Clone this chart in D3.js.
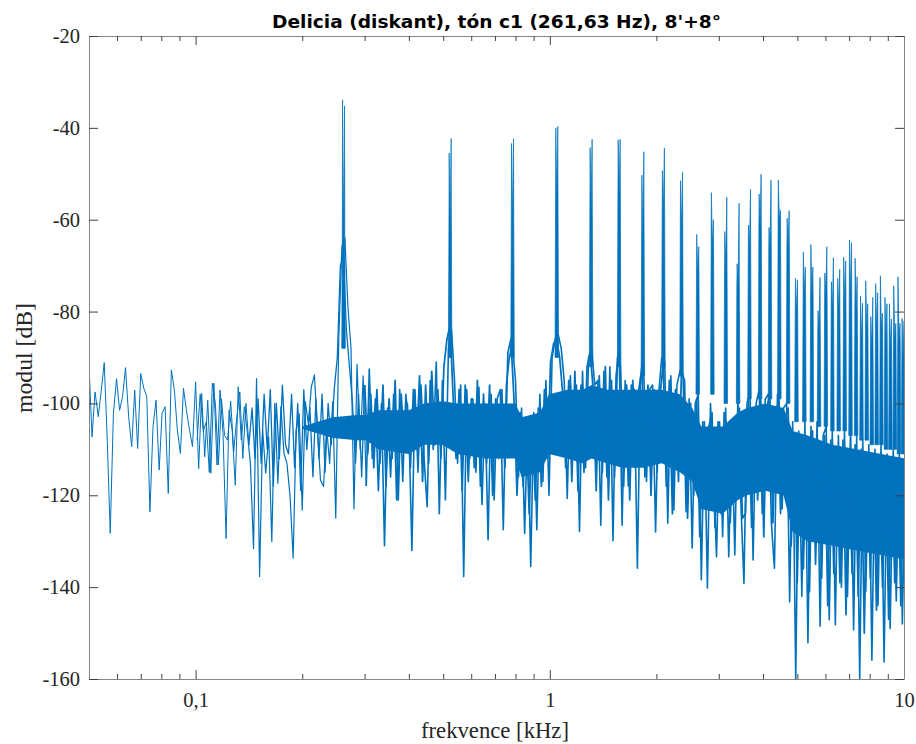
<!DOCTYPE html>
<html>
<head>
<meta charset="utf-8">
<script src="https://cdn.jsdelivr.net/npm/d3@7"></script>
<style>
html,body{margin:0;padding:0;background:#fff;}
svg{display:block;}
</style>
</head>
<body>
<svg id="chart" width="916" height="744"></svg>
<script>
// ---------------- DATA ----------------
const titleText = "Delicia (diskant), tón c1 (261,63 Hz), 8'+8°";
const xLabelText = "frekvence [kHz]";
const yLabelText = "modul [dB]";

const xMajorTicks = [0.1, 1, 10];
const xMajorLabels = ["0,1", "1", "10"];
const xMinorTicks = [0.06,0.07,0.08,0.09,0.2,0.3,0.4,0.5,0.6,0.7,0.8,0.9,2,3,4,5,6,7,8,9];
const yTicks = [-160,-140,-120,-100,-80,-60,-40,-20];

// spectrum trace (set 1): frequency [kHz]
const noiseFreq = [
0.05,0.051,0.052,0.0531,0.0541,0.0552,0.0563,0.0574,0.0586,0.0598,0.061,0.0622,0.0634,0.0647,0.066,0.0673,0.0686,0.07,0.0714,0.0728,0.0743,0.0758,0.0773,0.0789,0.0804,0.082,0.0837,0.0854,0.0871,0.0888,0.0906,0.0924,0.0942,0.0961,0.098,
0.1,0.102,0.104,0.1061,0.1082,0.1104,0.1126,0.1149,0.1172,0.1195,0.1219,0.1243,0.1268,0.1294,0.1319,0.1346,0.1373,0.14,0.1428,0.1457,0.1486,0.1516,0.1546,0.1577,0.1608,0.1641,0.1673,0.1707,0.1741,0.1776,0.1811,0.1848,0.1885,0.1922,0.1961,
0.2,0.204,0.2081,0.2122,0.2165,0.2208,0.2252,0.2297,0.2343,0.239,0.2438,0.2487,0.2536,0.2587,0.2639,0.2692,0.2746,0.28,0.2856,0.2914,0.2972,0.3032,0.3092,0.3154,0.3217,0.3281,0.3347,0.3414,0.3482,0.3552,0.3623,0.3695,0.3769,0.3844,0.3922,
0.4,0.408,0.4162,0.4245,0.433,0.4416,0.4505,0.4594,0.4686,0.478,0.4876,0.4974,0.5073,0.5174,0.5278,0.5383,0.5491,0.5601,0.5713,0.5827,0.5944,0.6063,0.6184,0.6308,0.6434,0.6562,0.6694,0.6828,0.6964,0.7103,0.7246,0.739,0.7538,0.7689,0.7843,
0.8,0.816,0.8323,0.849,0.8659,0.8833,0.9009,0.919,0.9373,0.9561,0.9752,0.9947,1.015,1.035,1.056,1.077,1.098,1.12,1.143,1.165,1.189,1.213,1.237,1.262,1.287,1.312,1.339,1.366,1.393,1.421,1.449,1.478,1.508,1.538,1.569,
1.6,1.632,1.665,1.698,1.732,1.767,1.802,1.838,1.875,1.912,1.95,1.989,2.029,2.07,2.111,2.153,2.197,2.24,2.285,2.331,2.378,2.425,2.474,2.523,2.574,2.625,2.678,2.731,2.786,2.842,2.898,2.956,3.015,3.076,3.137,
3.2,3.264,3.329,3.396,3.464,3.533,3.604,3.676,3.749,3.824,3.901,3.979,4.058,4.14,4.222,4.307,4.393,4.481,4.57,4.662,4.755,4.85,4.947,5.046,5.147,5.25,5.355,5.462,5.571,5.683,5.796,5.912,6.031,6.151,6.274,
6.4,6.528,6.658,6.792,6.927,7.066,7.207,7.351,7.498,7.648,7.801,7.957,8.116,8.279,8.444,8.613,8.785,8.961,9.14,9.323,9.51,9.7,9.894,10.09
];
// spectrum trace (set 1): level [dB]
const noiseDb = [
-91.7,-107.3,-97.5,-102.9,-97.5,-91.1,-108.0,-128.3,-102.2,-94.6,
-101.5,-98.5,-92.2,-102.9,-109.4,-97.1,-109.8,-93.5,-96.7,-98.5,
-123.6,-105.1,-99.3,-114.5,-102.2,-100.7,-119.6,-92.7,-97.1,-105.8,
-110.9,-96.7,-101.5,-105.8,-109.4,-95.3,-114.2,-97.8,-111.6,-99.3,
-115.2,-95.6,-113.4,-97.1,-106.5,-129.4,-101.5,-105.8,-117.8,-96.4,
-108.0,-100.7,-106.5,-113.1,-131.6,-94.6,-137.7,-105.8,-115.2,-107.3,
-130.1,-100.0,-117.4,-100.7,-110.9,-113.1,-120.3,-133.7,-105.8,-102.2,
-123.2,-99.6,-104.4,-96.4,-93.8,-105.8,-116.7,-118.1,-105.1,-113.1,
-99.6,
-125,-86,-66,-64,-79,-88,-123,-91.5,-110,-94,
-118,-92.5,-112,-99,-119,-100,-131,-101,-116,-98,
-121,-97,-117,-98,-105,-132,-97,-115,-96,-112,
-122.5,-95,-110,-91,-124,-95,-121,-88,-84,-95,
-113,-96,-137.7,-97,-112,-99,-115,-96.5,-122,-100,
-129.7,-98,-121,-99,-97,-127.5,-96,-90,-87,-95,
-116,-101,-128.3,-103,-135.5,-102,-127.5,-98,-117,-95,
-120,-90,-86,-85,-88,-95,-120.7,-94,-112,-96,
-127.9,-93,-114,-90,-88,-96,-95,-126.5,-93,-116,
-92,-129.9,-94,-88,-126.5,-95,-118,-96,-97,-135.9,
-96,-90,-117,-97,-96,-128,-98,-90,-91,-126.1,
-94,-123.2,-96,-93,-94,-123.6,-99,-131.5,-100,-98,
-138.4,-104,-140.2,-100,-115,-133.4,-104,-129,-101,-133.4,
-105,-133,-99,-122,-139.2,-100,-97,-134.1,-100,-97,
-124,-99,-98,-126,-135.9,-98,-124,-101,-100,-143.2,
-104,-160,-106,-142,-104,-152.1,-105,-128,-104,-148.5,
-107,-105,-147.1,-106,-148.2,-107,-140,-106,-142,-105,
-149.3,-107,-160,-108,-141,-109,-155.9,-110,-144,-109,
-156.3,-111,-149,-110,-143,-111,-148,-112
];

// spectrum trace (set 2, bins between those of set 1): frequency [kHz]
const noiseFreq2 = [
0.101,0.103,0.1051,0.1072,0.1093,0.1115,0.1137,0.116,0.1183,0.1207,0.1231,0.1256,0.1281,0.1307,0.1333,0.1359,0.1387,0.1414,0.1443,0.1471,0.1501,0.1531,0.1561,0.1593,0.1625,0.1657,0.169,0.1724,0.1758,0.1794,0.1829,0.1866,0.1903,0.1942,0.198,
0.202,0.206,0.2102,0.2144,0.2186,0.223,0.2275,0.232,0.2367,0.2414,0.2462,0.2512,0.2562,0.2613,0.2665,0.2719,0.2773,0.2828,0.2885,0.2943,0.3002,0.3062,0.3123,0.3185,0.3249,0.3314,0.338,0.3448,0.3517,0.3587,0.3659,0.3732,0.3807,0.3883,0.3961,
0.404,0.4121,0.4203,0.4287,0.4373,0.4461,0.455,0.4641,0.4734,0.4828,0.4925,0.5023,0.5124,0.5226,0.533,0.5438,0.5546,0.5657,0.577,0.5886,0.6003,0.6123,0.6246,0.637,0.6498,0.6628,0.6761,0.6896,0.7034,0.7174,0.7318,0.7464,0.7614,0.7766,0.7922,
0.808,0.8242,0.8406,0.8574,0.8746,0.8922,0.9099,0.9282,0.9467,0.9656,0.985,1.005,1.025,1.045,1.066,1.088,1.109,1.131,1.154,1.177,1.201,1.225,1.249,1.274,1.3,1.326,1.352,1.379,1.407,1.435,1.464,1.493,1.523,1.553,1.584,
1.616,1.648,1.681,1.715,1.749,1.784,1.82,1.856,1.893,1.931,1.97,2.009,2.05,2.091,2.132,2.175,2.219,2.263,2.308,2.354,2.401,2.449,2.498,2.548,2.599,2.651,2.704,2.758,2.813,2.87,2.927,2.986,3.045,3.107,3.169,
3.232,3.297,3.363,3.43,3.498,3.569,3.64,3.713,3.787,3.862,3.94,4.019,4.099,4.181,4.264,4.35,4.437,4.525,4.616,4.708,4.803,4.899,4.996,5.096,5.199,5.302,5.409,5.517,5.627,5.74,5.854,5.971,6.091,6.213,6.337,
6.464,6.593,6.725,6.86,6.996,7.137,7.279,7.425,7.574,7.725,7.88,8.037,8.198,8.362,8.529,8.7,8.874,9.051,9.233,9.417,9.605,9.797,9.993
];
// spectrum trace (set 2): level [dB]
const noiseDb2 = [
-108,-98,-106,-104,-115,-95.6,-100,-113.4,-99,-107,
-108,-99.5,-110.5,-103,-97.5,-112,-100,-109,-101,-112,
-99,-113,-98,-110,-97,-118,-100,-112,-96,-109,
-111,-98,-114,-100,-119,-97,-110,-101,-116,-99,
-112,-98,-115,-100,-109,-97,-90,-70,-68,-84,
-92,-100,-113,-98,-116,-96,-111,-98,-114,-97,
-113,-96,-118,-99,-112,-95,-121,-98,-110,-100,
-114,-97,-110,-94,-117,-96,-113,-93,-109,-97,
-112,-92,-86,-83,-98,-112,-97,-119,-96,-117,
-99,-114,-95,-118,-98,-113,-96,-120,-99,-112,
-97,-114,-89,-86,-99,-120,-102,-118,-104,-124,
-104,-121,-101,-118,-97,-112,-91,-87,-86,-90,
-98,-114,-95,-117,-93,-119,-96,-115,-92,-89,
-97,-119,-94,-115,-92,-121,-95,-116,-90,-92,
-118,-96,-121,-95,-114,-97,-92,-116,-96,-120,
-97,-115,-98,-91,-118,-95,-124,-97,-117,-93,
-95,-125,-100,-120,-99,-129,-104,-122,-105,-102,
-127,-104,-124,-102,-106,-126,-105,-121,-101,-125,
-124,-99,-127,-102,-121,-99,-129,-101,-98,-126,
-102,-99,-123,-103,-101,-131,-108,-139,-107,-136,
-108,-141,-106,-135,-109,-138,-107,-144,-108,-137,
-110,-139,-108,-146,-111,-137,-109,-142,-110,-150,
-112,-138,-111,-145,-113,-140,-112,-147,-113,-139,-112,-144,-114
];

// solid core of the dense noise
const bandFreq = [0.2,0.2438,0.2856,0.3032,0.3281,0.4,0.4416,0.4974,0.5491,0.6562,0.739,0.8,0.8323,0.9373,0.9947,1.12,1.237,1.312,1.449,1.6,1.838,2.07,2.331,2.523,2.678,3.076,3.396,3.604,4.058,4.57,4.85,5.355,6.274,7.351,8.613,10.09];
const bandTop = [-105,-103,-102.5,-102.5,-101.5,-101.5,-100,-99.5,-100,-100,-100,-100,-103,-102,-98,-97,-97,-96,-97,-97,-97,-97,-98,-101,-105,-105,-102,-101,-100,-101,-106,-107,-109,-110,-111,-112];
const bandBottom = [-105.5,-107.5,-108,-108,-110,-111,-109,-109,-111,-112,-112,-112,-116,-115,-111,-112,-113,-112,-113,-114,-114,-113,-115,-117,-123,-124,-121,-120,-119,-120,-128,-130,-131,-132,-133,-134];

// harmonic peaks (two slightly detuned ranks, 8' + 8° celeste)
const harmFreqA = [0.2599,0.5198,0.7797,1.0396,1.2995,1.5594,1.8193,2.0792,2.3391,2.599,2.859,3.119,3.379,3.639,3.899,4.158,4.418,4.678,4.938,5.198,5.458,5.718,5.978,6.238,6.498,6.757,7.017,7.277,7.537,7.797,8.057,8.317,8.577,8.837,9.097,9.356,9.616,9.876];
const harmFreqB = [0.2633,0.5266,0.7899,1.0532,1.3165,1.5798,1.8431,2.1064,2.3697,2.633,2.896,3.16,3.423,3.686,3.95,4.213,4.476,4.739,5.003,5.266,5.529,5.793,6.056,6.319,6.583,6.846,7.109,7.372,7.636,7.899,8.162,8.426,8.689,8.952,9.216,9.479,9.742,10.005];
const harmDbA = [-33.9,-45.5,-43.4,-40.0,-44.3,-42.6,-50.3,-49.3,-51.5,-63.2,-54.1,-62.6,-69.6,-61.2,-54.4,-61.7,-51.4,-59.7,-72.8,-67.0,-65.4,-79.8,-71.6,-73.5,-72.8,-68.2,-64.4,-68.4,-76.6,-73.3,-81.1,-73.9,-72.2,-76.9,-78.3,-74.4,-72.4,-81.5];
const harmDbB = [-35.2,-42.3,-42.4,-39.7,-42.5,-42.5,-45.2,-44.4,-49.7,-65.9,-60.0,-55.1,-56.4,-53.4,-50.1,-51.4,-57.9,-58.0,-73.1,-70.3,-70.3,-72.6,-65.9,-68.3,-70.8,-69.0,-65.0,-72.4,-78.2,-78.3,-76.9,-75.9,-80.4,-78.3,-81.6,-82.6,-82.6,-82.0];
const harmSkirtDb = [-62,-62,-60,-56,-58,-55,-64,-58,-62,-72,-66,-70,-74,-66,-62,-66,-60,-66,-80,-76,-76,-84,-76,-80,-80,-78,-76,-80,-86,-84,-88,-84,-84,-86,-88,-86,-86,-90];
const harmBaseDb = [-88,-90,-90,-90,-92,-92,-94,-92,-94,-98,-98,-100,-100,-99,-99,-99,-99,-100,-104,-104,-104,-105,-105,-106,-106,-106,-107,-107,-108,-108,-109,-109,-109,-110,-110,-110,-111,-111];

// ---------------- CHART ----------------
const blue = "#0072BD";
const serif = "'Liberation Serif', 'Times New Roman', serif";
const svg = d3.select("#chart");

const x = d3.scaleLog().domain([0.05, 10]).range([89, 904]);
const y = d3.scaleLinear().domain([-160, -20]).range([679, 36]);

svg.append("defs").append("clipPath").attr("id", "plotclip")
  .append("rect").attr("x", 89).attr("y", 36).attr("width", 815).attr("height", 643);

const plot = svg.append("g").attr("clip-path", "url(#plotclip)");

// solid core
const band = bandFreq.map((f, i) => ({ f, hi: bandTop[i], lo: bandBottom[i] }));
plot.append("path").datum(band)
  .attr("d", d3.area().x(d => x(d.f)).y0(d => y(d.lo)).y1(d => y(d.hi)))
  .attr("fill", blue);

// traces: the stroke gets heavier where the spectrum bins are densely packed
const line = d3.line().x(d => x(d.f)).y(d => y(d.v));
function drawTrace(freqs, dbs, from, to, w) {
  const n = Math.min(freqs.length, dbs.length, to);
  const data = d3.range(from, n).map(i => ({ f: freqs[i], v: dbs[i] }));
  plot.append("path").datum(data)
    .attr("d", line)
    .attr("fill", "none").attr("stroke", blue)
    .attr("stroke-width", w).attr("stroke-linejoin", "round");
}
const splitA = noiseFreq.indexOf(0.14), splitB = noiseFreq.indexOf(0.3032);
const split2A = noiseFreq2.indexOf(0.1414), split2B = noiseFreq2.indexOf(0.3002);
drawTrace(noiseFreq2, noiseDb2, 0, split2A + 1, 1.0);
drawTrace(noiseFreq2, noiseDb2, split2A, split2B + 1, 1.3);
drawTrace(noiseFreq2, noiseDb2, split2B, Infinity, 1.75);
drawTrace(noiseFreq, noiseDb, 0, splitA + 1, 1.0);
drawTrace(noiseFreq, noiseDb, splitA, splitB + 1, 1.2);
drawTrace(noiseFreq, noiseDb, splitB, Infinity, 1.6);

// harmonic peaks
const hLine = d3.line().x(d => x(d[0])).y(d => y(d[1]));
harmFreqA.forEach((fa, i) => {
  const fb = harmFreqB[i];
  const pts = [
    [fa / 1.005, harmBaseDb[i]],
    [fa / 1.0015, harmSkirtDb[i]],
    [fa, harmDbA[i]],
    [Math.sqrt(fa * fb), harmSkirtDb[i]],
    [fb, harmDbB[i]],
    [fb * 1.0015, harmSkirtDb[i]],
    [fb * 1.005, harmBaseDb[i]]
  ];
  plot.append("path").attr("d", hLine(pts) + "Z")
    .attr("fill", blue).attr("stroke", blue)
    .attr("stroke-width", 0.7).attr("stroke-linejoin", "round");
});

// ---------------- AXES ----------------
const boxColor = "#858585";
const tickColor = "#404040";
function styleAxis(g, withText) {
  g.select(".domain").attr("stroke", boxColor).attr("stroke-width", 1);
  g.selectAll(".tick line").attr("stroke", tickColor).attr("stroke-width", 1);
  if (withText) {
    g.selectAll(".tick text").attr("font-family", serif).attr("font-size", 20.5).attr("fill", "#262626");
  } else {
    g.selectAll(".tick text").remove();
  }
}

// bottom
svg.append("g").attr("transform", `translate(0,${y(-160)})`)
  .call(d3.axisBottom(x).tickValues(xMajorTicks).tickFormat((d, i) => xMajorLabels[i])
    .tickSizeInner(-9).tickSizeOuter(0).tickPadding(13.5))
  .call(g => styleAxis(g, true));
svg.append("g").attr("transform", `translate(0,${y(-160)})`)
  .call(d3.axisBottom(x).tickValues(xMinorTicks).tickFormat(() => "")
    .tickSizeInner(-5).tickSizeOuter(0))
  .call(g => { styleAxis(g, false); g.select(".domain").remove(); });
// top
svg.append("g").attr("transform", `translate(0,${y(-20)})`)
  .call(d3.axisTop(x).tickValues(xMajorTicks).tickFormat(() => "")
    .tickSizeInner(-9).tickSizeOuter(0))
  .call(g => styleAxis(g, false));
svg.append("g").attr("transform", `translate(0,${y(-20)})`)
  .call(d3.axisTop(x).tickValues(xMinorTicks).tickFormat(() => "")
    .tickSizeInner(-5).tickSizeOuter(0))
  .call(g => { styleAxis(g, false); g.select(".domain").remove(); });
// left
svg.append("g").attr("transform", `translate(${x(0.05)},0)`)
  .call(d3.axisLeft(y).tickValues(yTicks).tickFormat(d => String(d))
    .tickSizeInner(-9).tickSizeOuter(0).tickPadding(9))
  .call(g => styleAxis(g, true));
// right
svg.append("g").attr("transform", `translate(${x(10)},0)`)
  .call(d3.axisRight(y).tickValues(yTicks).tickFormat(() => "")
    .tickSizeInner(-9).tickSizeOuter(0))
  .call(g => styleAxis(g, false));

// ---------------- LABELS ----------------
svg.append("text")
  .attr("x", 496.5).attr("y", 28)
  .attr("text-anchor", "middle")
  .attr("font-family", "'DejaVu Sans', sans-serif")
  .attr("font-weight", "bold").attr("font-size", 18)
  .attr("fill", "#000")
  .attr("textLength", 449).attr("lengthAdjust", "spacingAndGlyphs")
  .text(titleText);

svg.append("text")
  .attr("x", 495).attr("y", 738)
  .attr("text-anchor", "middle")
  .attr("font-family", serif).attr("font-size", 23.5)
  .attr("fill", "#262626")
  .attr("textLength", 148).attr("lengthAdjust", "spacingAndGlyphs")
  .text(xLabelText);

svg.append("text")
  .attr("transform", "translate(32,358) rotate(-90)")
  .attr("text-anchor", "middle")
  .attr("font-family", serif).attr("font-size", 23.5)
  .attr("fill", "#262626")
  .attr("textLength", 110).attr("lengthAdjust", "spacingAndGlyphs")
  .text(yLabelText);
</script>
</body>
</html>
